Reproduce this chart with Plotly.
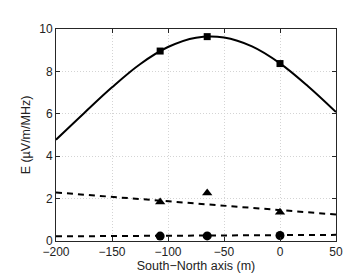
import plotly.graph_objects as go

# Data
pos = [-107, -65, 0]
e_square = [8.96, 9.64, 8.37]
e_triangle = [1.84, 2.26, 1.36]
e_circle = [0.23, 0.24, 0.26]

curve_x = [-200, -175, -150, -125, -100, -75, -50, -25, 0, 25, 50]
curve_y = [4.78, 6.03, 7.25, 8.34, 9.15, 9.59, 9.60, 9.18, 8.38, 7.30, 6.08]

tri_fit_x = [-200, 50]
tri_fit_y = [2.29, 1.25]
circ_fit_x = [-200, 50]
circ_fit_y = [0.22, 0.29]

x_ticks = [-200, -150, -100, -50, 0, 50]
y_ticks = [0, 2, 4, 6, 8, 10]

fig = go.Figure()
fig.add_trace(go.Scatter(x=curve_x, y=curve_y, mode="lines",
                         line=dict(color="black", width=2, shape="spline", smoothing=1.0)))
fig.add_trace(go.Scatter(x=tri_fit_x, y=tri_fit_y, mode="lines",
                         line=dict(color="black", width=2, dash="6px,5px")))
fig.add_trace(go.Scatter(x=circ_fit_x, y=circ_fit_y, mode="lines",
                         line=dict(color="black", width=2, dash="6px,5px")))
fig.add_trace(go.Scatter(x=pos, y=e_square, mode="markers",
                         marker=dict(symbol="square", size=7, color="black")))
fig.add_trace(go.Scatter(x=pos, y=e_triangle, mode="markers",
                         marker=dict(symbol="triangle-up", size=9, color="black")))
fig.add_trace(go.Scatter(x=pos, y=e_circle, mode="markers",
                         marker=dict(symbol="circle", size=9, color="black")))

axis_common = dict(
    showline=True, linecolor="#262626", linewidth=1, mirror="ticks",
    ticks="inside", ticklen=4, tickcolor="#262626",
    showgrid=True, gridcolor="#d4d4d4", griddash="1px,2px", gridwidth=1,
    zeroline=False, tickfont=dict(family="Liberation Sans, Arial", size=12, color="#222"),
)

fig.update_layout(
    width=362, height=273,
    margin=dict(l=48, r=34, t=21, b=31),
    paper_bgcolor="white", plot_bgcolor="white",
    showlegend=False,
    font=dict(family="Liberation Sans, Arial", size=12, color="#222"),
    xaxis=dict(range=[-200, 50], tickvals=x_ticks,
               ticktext=[str(v).replace("-", "\u2212") for v in x_ticks],
               title=dict(text="South\u2212North axis (m)", standoff=1, font=dict(size=12.5)),
               **axis_common),
    yaxis=dict(range=[0, 10], tickvals=y_ticks,
               title=dict(text="E (\u00b5V/m/MHz)", standoff=5, font=dict(size=12.5)),
               **axis_common),
)

fig.write_html("out.html")
